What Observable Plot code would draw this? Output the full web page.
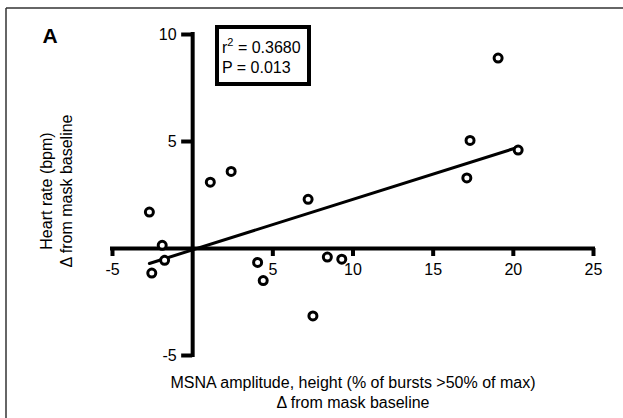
<!DOCTYPE html>
<html>
<head>
<meta charset="utf-8">
<script src="https://cdn.jsdelivr.net/npm/d3@7"></script>
<script src="https://cdn.jsdelivr.net/npm/@observablehq/plot@0.6"></script>
<style>
  html, body { margin: 0; padding: 0; background: white; }
  svg text { font-family: "Liberation Sans", Arial, Helvetica, sans-serif; }
</style>
</head>
<body>
<div id="chart"></div>
<script>
// MSNA amplitude change (x) and heart rate change (y)
const msnaDelta = [1.1, 2.4, 7.2, -2.7, -1.9, -1.75, -2.55, 4.05, 4.4, 7.5, 8.4, 9.3, 19.05, 17.3, 20.3, 17.1];
const hrDelta   = [3.1, 3.6, 2.3, 1.7, 0.15, -0.55, -1.15, -0.65, -1.5, -3.15, -0.4, -0.5, 8.9, 5.05, 4.6, 3.3];
const xTicks = [-5, 5, 10, 15, 20, 25];
const yTicks = [-5, 5, 10];
const xDomain = [-5, 25];
const yDomain = [-5, 10];
const panelLabel = "A";
const r2Text = ["r", "2", " = 0.3680"];
const pText = "P = 0.013";
const xTitle = "MSNA amplitude, height (% of bursts >50% of max)\nΔ from mask baseline";
const yTitle = "Heart rate (bpm)\nΔ from mask baseline";

const data = msnaDelta.map((x, i) => ({x, y: hrDelta[i]}));

const font = '"Liberation Sans", Arial, Helvetica, sans-serif';

const chart = Plot.plot({
  width: 623,
  height: 418,
  marginLeft: 112,
  marginRight: 30,
  marginTop: 34,
  marginBottom: 63,
  x: {domain: xDomain, axis: null},
  y: {domain: yDomain, axis: null},
  style: {fontFamily: font, fontSize: "16px", background: "white", color: "black"},
  marks: [
    // axes crossing at zero
    Plot.ruleY([0], {x1: xDomain[0], x2: xDomain[1], stroke: "black", strokeWidth: 4, strokeLinecap: "square"}),
    Plot.ruleX([0], {y1: yDomain[0], y2: yDomain[1], stroke: "black", strokeWidth: 4, strokeLinecap: "square"}),
    Plot.ruleX(xTicks, {x: d => d, y1: 0, y2: 0, insetBottom: -8, stroke: "black", strokeWidth: 4}),
    Plot.ruleY(yTicks, {y: d => d, x1: 0, x2: 0, insetLeft: -11, stroke: "black", strokeWidth: 4}),
    Plot.text(xTicks, {x: d => d, y: 0, dy: 21, text: d => String(d), fontSize: 16, fill: "black"}),
    Plot.text(yTicks, {x: 0, y: d => d, dx: -16, textAnchor: "end", text: d => String(d), fontSize: 16, fill: "black"}),
    // regression line
    Plot.linearRegressionY(data, {x: "x", y: "y", ci: 0, stroke: "black", strokeWidth: 3}),
    // points
    Plot.dot(data, {x: "x", y: "y", r: 4, stroke: "black", strokeWidth: 3, fill: "white"}),
    // titles
    Plot.text([xTitle], {frameAnchor: "bottom", dy: 52, textAnchor: "middle", lineAnchor: "bottom", lineHeight: 1.25, text: d => d, fontSize: 16, fill: "black"}),
    Plot.text([yTitle], {frameAnchor: "left", dx: -75, dy: -4, rotate: -90, textAnchor: "middle", lineAnchor: "top", lineHeight: 1.25, text: d => d, fontSize: 16, fill: "black"}),
    Plot.text([panelLabel], {frameAnchor: "top-left", dx: -70, dy: -6, text: d => d, fontSize: 21, fontWeight: "bold", fill: "black"})
  ]
});

document.getElementById("chart").appendChild(chart);

// annotation box and outer frame
const svg = d3.select(chart);
svg.append("line").attr("x1", 6).attr("y1", 8).attr("x2", 623).attr("y2", 8)
  .attr("stroke", "#333").attr("stroke-width", 1.5);
svg.append("line").attr("x1", 6).attr("y1", 8).attr("x2", 6).attr("y2", 418)
  .attr("stroke", "#333").attr("stroke-width", 1.5);
svg.append("rect").attr("x", 217).attr("y", 27).attr("width", 92).attr("height", 57)
  .attr("fill", "white").attr("stroke", "black").attr("stroke-width", 4);
const t1 = svg.append("text").attr("x", 222).attr("y", 53)
  .attr("text-anchor", "start").attr("font-size", 16).attr("fill", "black");
t1.append("tspan").text(r2Text[0]);
t1.append("tspan").attr("font-size", 11).attr("dy", -7).text(r2Text[1]);
t1.append("tspan").attr("dy", 7).text(r2Text[2]);
svg.append("text").attr("x", 222).attr("y", 73)
  .attr("text-anchor", "start").attr("font-size", 16).attr("fill", "black").text(pText);
</script>
</body>
</html>
